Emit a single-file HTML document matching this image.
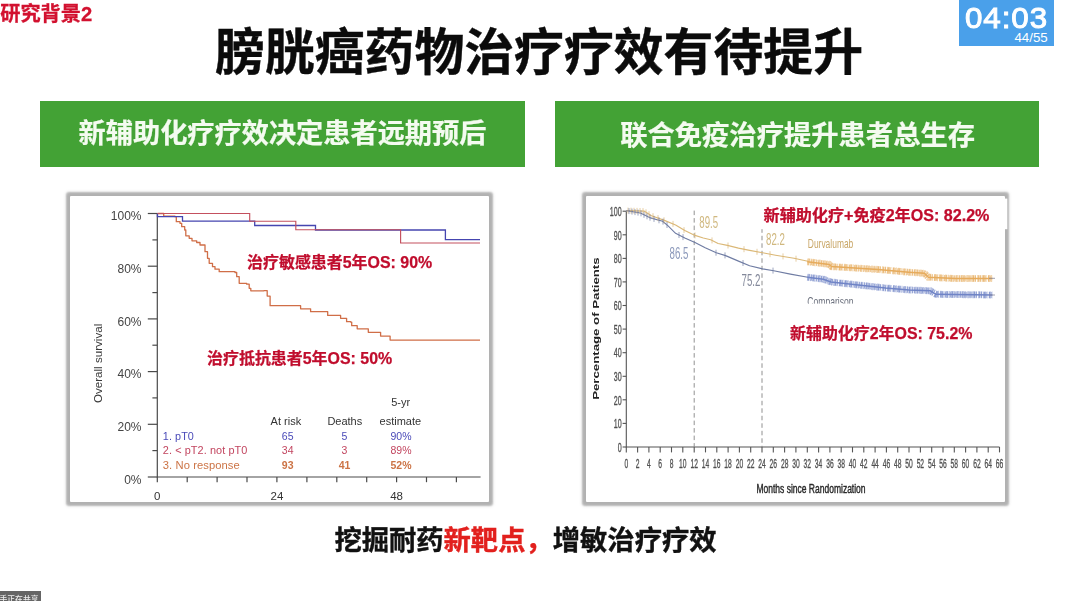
<!DOCTYPE html>
<html lang="zh"><head><meta charset="utf-8"><title>研究背景2</title>
<style>
html,body{margin:0;padding:0;background:#fff}
body{width:1080px;height:601px;position:relative;overflow:hidden;font-family:"Liberation Sans",sans-serif}
.lbl{position:absolute;margin:0;color:transparent;white-space:nowrap;font-weight:bold;overflow:hidden;pointer-events:none}
.lbl em{font-style:normal}
.banner{position:absolute;top:101px;height:65.5px;background:#43a235}
.box{position:absolute;top:195.7px;height:306.3px;background:#fff;border-radius:1px;box-shadow:0 0 2.2px 3.3px rgba(105,105,105,.52)}
.timer{position:absolute;left:959px;top:0;width:95px;height:45.5px;background:#4aa0ea;color:#fff}
.timer b{position:absolute;left:6.4px;top:2.6px;font-size:30px;line-height:30px;font-weight:normal;letter-spacing:0.9px;-webkit-text-stroke:1px #fff;transform:scaleX(1.044);transform-origin:0 0;white-space:nowrap}
.timer i{position:absolute;right:6.3px;top:30.7px;font-size:13.3px;line-height:13px;font-style:normal}
.tag{position:absolute;left:0;top:591px;width:40.5px;height:10px;background:#656565}
svg.main{position:absolute;left:0;top:0;filter:blur(0.4px)}
</style></head><body>

<div class="lbl" style="left:0;top:2px;font-size:20px;line-height:22px">研究背景2</div>
<h1 class="lbl" style="left:215px;top:24px;width:650px;font-size:50px;line-height:54px">膀胱癌药物治疗疗效有待提升</h1>
<div class="banner" style="left:40px;width:485px"><span class="lbl" style="left:38px;top:17px;font-size:27px;line-height:32px">新辅助化疗疗效决定患者远期预后</span></div>
<div class="banner" style="left:555px;width:484px"><span class="lbl" style="left:65px;top:18px;font-size:27px;line-height:32px">联合免疫治疗提升患者总生存</span></div>
<p class="lbl" style="left:334px;top:523px;font-size:27px;line-height:32px">挖掘耐药<em>新靶点，</em>增敏治疗疗效</p>
<div class="box" style="left:69.8px;width:419.5px"></div>
<div class="box" style="left:586.3px;width:419px"></div>
<div class="timer"><b>04:03</b><i>44/55</i></div>
<div class="tag"></div>
<svg class="main" width="1080" height="601" viewBox="0 0 1080 601">
<g stroke="#4a4a4a" stroke-width="1.2" fill="none">
<path d="M157.3 213.0 V477.0 H480.6"/>
<path d="M147.8 477.0 H157.3"/>
<path d="M152.4 450.6 H157.3"/>
<path d="M147.8 424.3 H157.3"/>
<path d="M152.4 397.9 H157.3"/>
<path d="M147.8 371.6 H157.3"/>
<path d="M152.4 345.2 H157.3"/>
<path d="M147.8 318.9 H157.3"/>
<path d="M152.4 292.6 H157.3"/>
<path d="M147.8 266.2 H157.3"/>
<path d="M152.4 239.9 H157.3"/>
<path d="M147.8 213.5 H157.3"/>
<path d="M157.3 477.0 v5.2"/>
<path d="M187.2 477.0 v5.2"/>
<path d="M217.1 477.0 v5.2"/>
<path d="M247.0 477.0 v5.2"/>
<path d="M276.9 477.0 v5.2"/>
<path d="M306.9 477.0 v5.2"/>
<path d="M336.8 477.0 v5.2"/>
<path d="M366.7 477.0 v5.2"/>
<path d="M396.6 477.0 v5.2"/>
<path d="M426.5 477.0 v5.2"/>
<path d="M456.4 477.0 v5.2"/>
</g>
<text transform="translate(141.50 483.60)" font-family="'Liberation Sans', sans-serif" font-size="12" font-weight="normal" fill="#444" text-anchor="end" >0%</text>
<text transform="translate(141.50 430.90)" font-family="'Liberation Sans', sans-serif" font-size="12" font-weight="normal" fill="#444" text-anchor="end" >20%</text>
<text transform="translate(141.50 378.20)" font-family="'Liberation Sans', sans-serif" font-size="12" font-weight="normal" fill="#444" text-anchor="end" >40%</text>
<text transform="translate(141.50 325.50)" font-family="'Liberation Sans', sans-serif" font-size="12" font-weight="normal" fill="#444" text-anchor="end" >60%</text>
<text transform="translate(141.50 272.80)" font-family="'Liberation Sans', sans-serif" font-size="12" font-weight="normal" fill="#444" text-anchor="end" >80%</text>
<text transform="translate(141.50 220.10)" font-family="'Liberation Sans', sans-serif" font-size="12" font-weight="normal" fill="#444" text-anchor="end" >100%</text>
<text transform="translate(157.30 500.00)" font-family="'Liberation Sans', sans-serif" font-size="11.5" font-weight="normal" fill="#333" text-anchor="middle" >0</text>
<text transform="translate(276.94 500.00)" font-family="'Liberation Sans', sans-serif" font-size="11.5" font-weight="normal" fill="#333" text-anchor="middle" >24</text>
<text transform="translate(396.58 500.00)" font-family="'Liberation Sans', sans-serif" font-size="11.5" font-weight="normal" fill="#333" text-anchor="middle" >48</text>
<text transform="translate(102.20 363.40) rotate(-90)" font-family="'Liberation Sans', sans-serif" font-size="11.6" font-weight="normal" fill="#3a3a3a" text-anchor="middle" >Overall survival</text>
<path d="M157.5 213.5 H163.7 V216.2 H175 V216.7 H176.3 V221.7 H180 V223.3 H181.7 V226.7 H184.7 V230 H185.8 V235.8 H189.2 V238.3 H192 V240.8 H196.7 V242.5 H200 V245 H203.3 V245 H205 V251.7 H207.5 V258.3 H209.2 V263.3 H212.5 V266.7 H215 V269.2 H219.2 V271.7 H235 V272.5 H236.7 V276.7 H239.2 V283.3 H246.7 V284.2 H249.2 V288.3 H250.8 V290.8 H263.9 V290.6 H267.2 V296.1 H270.1 V305.7 H299.4 V305.7 H300.6 V308.8 H309.4 V308.8 H310.6 V311.7 H326.6 V311.7 H327.7 V315.4 H339.4 V315.4 H340.6 V318.3 H345.7 V318.3 H346.6 V321.7 H350.6 V322.1 H351.7 V325.7 H356.1 V325.7 H357.2 V328.8 H367.2 V328.8 H368.3 V332.3 H379.4 V332.3 H380.6 V336.1 H389 V336.1 H390.1 V340.1 H480 V340.1" fill="none" stroke="#d06e47" stroke-width="1.3" stroke-linejoin="round"/>
<path d="M157.5 213.5 V216.7 H182.5 V221.2 H254.7 V225.5 H315.5 V230 H445.4 V239.6 H480" fill="none" stroke="#4545b0" stroke-width="1.3"/>
<path d="M157.5 213.5 H249.7 V221.2 H295.8 V229.7 H400.6 V243 H480" fill="none" stroke="#c4505e" stroke-width="1.15"/>
<text transform="translate(400.60 406.20)" font-family="'Liberation Sans', sans-serif" font-size="11" font-weight="normal" fill="#333" text-anchor="middle" >5-yr</text>
<text transform="translate(285.90 424.60)" font-family="'Liberation Sans', sans-serif" font-size="11" font-weight="normal" fill="#333" text-anchor="middle" >At risk</text>
<text transform="translate(344.80 425.00)" font-family="'Liberation Sans', sans-serif" font-size="11" font-weight="normal" fill="#333" text-anchor="middle" >Deaths</text>
<text transform="translate(400.30 424.60)" font-family="'Liberation Sans', sans-serif" font-size="11" font-weight="normal" fill="#333" text-anchor="middle" >estimate</text>
<text transform="translate(162.80 439.50)" font-family="'Liberation Sans', sans-serif" font-size="10.8" font-weight="normal" fill="#4a4ab8" text-anchor="start" letter-spacing="0.08">1. pT0</text>
<text transform="translate(287.70 439.50)" font-family="'Liberation Sans', sans-serif" font-size="10.5" font-weight="normal" fill="#4a4ab8" text-anchor="middle" >65</text>
<text transform="translate(344.50 439.50)" font-family="'Liberation Sans', sans-serif" font-size="10.5" font-weight="normal" fill="#4a4ab8" text-anchor="middle" >5</text>
<text transform="translate(401.00 439.50)" font-family="'Liberation Sans', sans-serif" font-size="10.5" font-weight="normal" fill="#4a4ab8" text-anchor="middle" >90%</text>
<text transform="translate(162.80 454.00)" font-family="'Liberation Sans', sans-serif" font-size="10.9" font-weight="normal" fill="#c2455f" text-anchor="start" letter-spacing="0.08">2. &lt; pT2. not pT0</text>
<text transform="translate(287.70 454.00)" font-family="'Liberation Sans', sans-serif" font-size="10.5" font-weight="normal" fill="#c2455f" text-anchor="middle" >34</text>
<text transform="translate(344.50 454.00)" font-family="'Liberation Sans', sans-serif" font-size="10.5" font-weight="normal" fill="#c2455f" text-anchor="middle" >3</text>
<text transform="translate(401.00 454.00)" font-family="'Liberation Sans', sans-serif" font-size="10.5" font-weight="normal" fill="#c2455f" text-anchor="middle" >89%</text>
<text transform="translate(162.80 468.80)" font-family="'Liberation Sans', sans-serif" font-size="11.2" font-weight="normal" fill="#cc7446" text-anchor="start" letter-spacing="0.08">3. No response</text>
<text transform="translate(287.70 468.80)" font-family="'Liberation Sans', sans-serif" font-size="10.5" font-weight="bold" fill="#cc7446" text-anchor="middle" >93</text>
<text transform="translate(344.50 468.80)" font-family="'Liberation Sans', sans-serif" font-size="10.5" font-weight="bold" fill="#cc7446" text-anchor="middle" >41</text>
<text transform="translate(401.00 468.80)" font-family="'Liberation Sans', sans-serif" font-size="10.5" font-weight="bold" fill="#cc7446" text-anchor="middle" >52%</text>
<g stroke="#555" stroke-width="1.1" fill="none">
<path d="M626.3 211.2 V447.0 H999.5"/>
<path d="M622.6 447.0 H626.3"/>
<path d="M622.6 423.4 H626.3"/>
<path d="M622.6 399.8 H626.3"/>
<path d="M622.6 376.3 H626.3"/>
<path d="M622.6 352.7 H626.3"/>
<path d="M622.6 329.1 H626.3"/>
<path d="M622.6 305.5 H626.3"/>
<path d="M622.6 281.9 H626.3"/>
<path d="M622.6 258.4 H626.3"/>
<path d="M622.6 234.8 H626.3"/>
<path d="M622.6 211.2 H626.3"/>
<path d="M626.3 447.0 v5.4"/>
<path d="M637.6 447.0 v5.4"/>
<path d="M648.9 447.0 v5.4"/>
<path d="M660.2 447.0 v5.4"/>
<path d="M671.5 447.0 v5.4"/>
<path d="M682.8 447.0 v5.4"/>
<path d="M694.2 447.0 v5.4"/>
<path d="M705.5 447.0 v5.4"/>
<path d="M716.8 447.0 v5.4"/>
<path d="M728.1 447.0 v5.4"/>
<path d="M739.4 447.0 v5.4"/>
<path d="M750.7 447.0 v5.4"/>
<path d="M762.0 447.0 v5.4"/>
<path d="M773.3 447.0 v5.4"/>
<path d="M784.6 447.0 v5.4"/>
<path d="M795.9 447.0 v5.4"/>
<path d="M807.3 447.0 v5.4"/>
<path d="M818.6 447.0 v5.4"/>
<path d="M829.9 447.0 v5.4"/>
<path d="M841.2 447.0 v5.4"/>
<path d="M852.5 447.0 v5.4"/>
<path d="M863.8 447.0 v5.4"/>
<path d="M875.1 447.0 v5.4"/>
<path d="M886.4 447.0 v5.4"/>
<path d="M897.7 447.0 v5.4"/>
<path d="M909.0 447.0 v5.4"/>
<path d="M920.4 447.0 v5.4"/>
<path d="M931.7 447.0 v5.4"/>
<path d="M943.0 447.0 v5.4"/>
<path d="M954.3 447.0 v5.4"/>
<path d="M965.6 447.0 v5.4"/>
<path d="M976.9 447.0 v5.4"/>
<path d="M988.2 447.0 v5.4"/>
<path d="M999.5 447.0 v5.4"/>
</g>
<text transform="translate(621.60 451.80) scale(0.53 1)" font-family="'Liberation Sans', sans-serif" font-size="13.4" font-weight="normal" fill="#505050" text-anchor="end" stroke="#505050" stroke-width="0.35">0</text>
<text transform="translate(621.60 428.22) scale(0.53 1)" font-family="'Liberation Sans', sans-serif" font-size="13.4" font-weight="normal" fill="#505050" text-anchor="end" stroke="#505050" stroke-width="0.35">10</text>
<text transform="translate(621.60 404.64) scale(0.53 1)" font-family="'Liberation Sans', sans-serif" font-size="13.4" font-weight="normal" fill="#505050" text-anchor="end" stroke="#505050" stroke-width="0.35">20</text>
<text transform="translate(621.60 381.06) scale(0.53 1)" font-family="'Liberation Sans', sans-serif" font-size="13.4" font-weight="normal" fill="#505050" text-anchor="end" stroke="#505050" stroke-width="0.35">30</text>
<text transform="translate(621.60 357.48) scale(0.53 1)" font-family="'Liberation Sans', sans-serif" font-size="13.4" font-weight="normal" fill="#505050" text-anchor="end" stroke="#505050" stroke-width="0.35">40</text>
<text transform="translate(621.60 333.90) scale(0.53 1)" font-family="'Liberation Sans', sans-serif" font-size="13.4" font-weight="normal" fill="#505050" text-anchor="end" stroke="#505050" stroke-width="0.35">50</text>
<text transform="translate(621.60 310.32) scale(0.53 1)" font-family="'Liberation Sans', sans-serif" font-size="13.4" font-weight="normal" fill="#505050" text-anchor="end" stroke="#505050" stroke-width="0.35">60</text>
<text transform="translate(621.60 286.74) scale(0.53 1)" font-family="'Liberation Sans', sans-serif" font-size="13.4" font-weight="normal" fill="#505050" text-anchor="end" stroke="#505050" stroke-width="0.35">70</text>
<text transform="translate(621.60 263.16) scale(0.53 1)" font-family="'Liberation Sans', sans-serif" font-size="13.4" font-weight="normal" fill="#505050" text-anchor="end" stroke="#505050" stroke-width="0.35">80</text>
<text transform="translate(621.60 239.58) scale(0.53 1)" font-family="'Liberation Sans', sans-serif" font-size="13.4" font-weight="normal" fill="#505050" text-anchor="end" stroke="#505050" stroke-width="0.35">90</text>
<text transform="translate(621.60 216.00) scale(0.53 1)" font-family="'Liberation Sans', sans-serif" font-size="13.4" font-weight="normal" fill="#505050" text-anchor="end" stroke="#505050" stroke-width="0.35">100</text>
<text transform="translate(626.30 467.80) scale(0.5 1)" font-family="'Liberation Sans', sans-serif" font-size="13.4" font-weight="normal" fill="#505050" text-anchor="middle" stroke="#505050" stroke-width="0.35">0</text>
<text transform="translate(637.61 467.80) scale(0.5 1)" font-family="'Liberation Sans', sans-serif" font-size="13.4" font-weight="normal" fill="#505050" text-anchor="middle" stroke="#505050" stroke-width="0.35">2</text>
<text transform="translate(648.92 467.80) scale(0.5 1)" font-family="'Liberation Sans', sans-serif" font-size="13.4" font-weight="normal" fill="#505050" text-anchor="middle" stroke="#505050" stroke-width="0.35">4</text>
<text transform="translate(660.23 467.80) scale(0.5 1)" font-family="'Liberation Sans', sans-serif" font-size="13.4" font-weight="normal" fill="#505050" text-anchor="middle" stroke="#505050" stroke-width="0.35">6</text>
<text transform="translate(671.54 467.80) scale(0.5 1)" font-family="'Liberation Sans', sans-serif" font-size="13.4" font-weight="normal" fill="#505050" text-anchor="middle" stroke="#505050" stroke-width="0.35">8</text>
<text transform="translate(682.85 467.80) scale(0.5 1)" font-family="'Liberation Sans', sans-serif" font-size="13.4" font-weight="normal" fill="#505050" text-anchor="middle" stroke="#505050" stroke-width="0.35">10</text>
<text transform="translate(694.16 467.80) scale(0.5 1)" font-family="'Liberation Sans', sans-serif" font-size="13.4" font-weight="normal" fill="#505050" text-anchor="middle" stroke="#505050" stroke-width="0.35">12</text>
<text transform="translate(705.47 467.80) scale(0.5 1)" font-family="'Liberation Sans', sans-serif" font-size="13.4" font-weight="normal" fill="#505050" text-anchor="middle" stroke="#505050" stroke-width="0.35">14</text>
<text transform="translate(716.78 467.80) scale(0.5 1)" font-family="'Liberation Sans', sans-serif" font-size="13.4" font-weight="normal" fill="#505050" text-anchor="middle" stroke="#505050" stroke-width="0.35">16</text>
<text transform="translate(728.09 467.80) scale(0.5 1)" font-family="'Liberation Sans', sans-serif" font-size="13.4" font-weight="normal" fill="#505050" text-anchor="middle" stroke="#505050" stroke-width="0.35">18</text>
<text transform="translate(739.40 467.80) scale(0.5 1)" font-family="'Liberation Sans', sans-serif" font-size="13.4" font-weight="normal" fill="#505050" text-anchor="middle" stroke="#505050" stroke-width="0.35">20</text>
<text transform="translate(750.71 467.80) scale(0.5 1)" font-family="'Liberation Sans', sans-serif" font-size="13.4" font-weight="normal" fill="#505050" text-anchor="middle" stroke="#505050" stroke-width="0.35">22</text>
<text transform="translate(762.02 467.80) scale(0.5 1)" font-family="'Liberation Sans', sans-serif" font-size="13.4" font-weight="normal" fill="#505050" text-anchor="middle" stroke="#505050" stroke-width="0.35">24</text>
<text transform="translate(773.33 467.80) scale(0.5 1)" font-family="'Liberation Sans', sans-serif" font-size="13.4" font-weight="normal" fill="#505050" text-anchor="middle" stroke="#505050" stroke-width="0.35">26</text>
<text transform="translate(784.64 467.80) scale(0.5 1)" font-family="'Liberation Sans', sans-serif" font-size="13.4" font-weight="normal" fill="#505050" text-anchor="middle" stroke="#505050" stroke-width="0.35">28</text>
<text transform="translate(795.95 467.80) scale(0.5 1)" font-family="'Liberation Sans', sans-serif" font-size="13.4" font-weight="normal" fill="#505050" text-anchor="middle" stroke="#505050" stroke-width="0.35">30</text>
<text transform="translate(807.26 467.80) scale(0.5 1)" font-family="'Liberation Sans', sans-serif" font-size="13.4" font-weight="normal" fill="#505050" text-anchor="middle" stroke="#505050" stroke-width="0.35">32</text>
<text transform="translate(818.57 467.80) scale(0.5 1)" font-family="'Liberation Sans', sans-serif" font-size="13.4" font-weight="normal" fill="#505050" text-anchor="middle" stroke="#505050" stroke-width="0.35">34</text>
<text transform="translate(829.88 467.80) scale(0.5 1)" font-family="'Liberation Sans', sans-serif" font-size="13.4" font-weight="normal" fill="#505050" text-anchor="middle" stroke="#505050" stroke-width="0.35">36</text>
<text transform="translate(841.19 467.80) scale(0.5 1)" font-family="'Liberation Sans', sans-serif" font-size="13.4" font-weight="normal" fill="#505050" text-anchor="middle" stroke="#505050" stroke-width="0.35">38</text>
<text transform="translate(852.50 467.80) scale(0.5 1)" font-family="'Liberation Sans', sans-serif" font-size="13.4" font-weight="normal" fill="#505050" text-anchor="middle" stroke="#505050" stroke-width="0.35">40</text>
<text transform="translate(863.81 467.80) scale(0.5 1)" font-family="'Liberation Sans', sans-serif" font-size="13.4" font-weight="normal" fill="#505050" text-anchor="middle" stroke="#505050" stroke-width="0.35">42</text>
<text transform="translate(875.12 467.80) scale(0.5 1)" font-family="'Liberation Sans', sans-serif" font-size="13.4" font-weight="normal" fill="#505050" text-anchor="middle" stroke="#505050" stroke-width="0.35">44</text>
<text transform="translate(886.43 467.80) scale(0.5 1)" font-family="'Liberation Sans', sans-serif" font-size="13.4" font-weight="normal" fill="#505050" text-anchor="middle" stroke="#505050" stroke-width="0.35">46</text>
<text transform="translate(897.74 467.80) scale(0.5 1)" font-family="'Liberation Sans', sans-serif" font-size="13.4" font-weight="normal" fill="#505050" text-anchor="middle" stroke="#505050" stroke-width="0.35">48</text>
<text transform="translate(909.05 467.80) scale(0.5 1)" font-family="'Liberation Sans', sans-serif" font-size="13.4" font-weight="normal" fill="#505050" text-anchor="middle" stroke="#505050" stroke-width="0.35">50</text>
<text transform="translate(920.36 467.80) scale(0.5 1)" font-family="'Liberation Sans', sans-serif" font-size="13.4" font-weight="normal" fill="#505050" text-anchor="middle" stroke="#505050" stroke-width="0.35">52</text>
<text transform="translate(931.67 467.80) scale(0.5 1)" font-family="'Liberation Sans', sans-serif" font-size="13.4" font-weight="normal" fill="#505050" text-anchor="middle" stroke="#505050" stroke-width="0.35">54</text>
<text transform="translate(942.98 467.80) scale(0.5 1)" font-family="'Liberation Sans', sans-serif" font-size="13.4" font-weight="normal" fill="#505050" text-anchor="middle" stroke="#505050" stroke-width="0.35">56</text>
<text transform="translate(954.29 467.80) scale(0.5 1)" font-family="'Liberation Sans', sans-serif" font-size="13.4" font-weight="normal" fill="#505050" text-anchor="middle" stroke="#505050" stroke-width="0.35">58</text>
<text transform="translate(965.60 467.80) scale(0.5 1)" font-family="'Liberation Sans', sans-serif" font-size="13.4" font-weight="normal" fill="#505050" text-anchor="middle" stroke="#505050" stroke-width="0.35">60</text>
<text transform="translate(976.91 467.80) scale(0.5 1)" font-family="'Liberation Sans', sans-serif" font-size="13.4" font-weight="normal" fill="#505050" text-anchor="middle" stroke="#505050" stroke-width="0.35">62</text>
<text transform="translate(988.22 467.80) scale(0.5 1)" font-family="'Liberation Sans', sans-serif" font-size="13.4" font-weight="normal" fill="#505050" text-anchor="middle" stroke="#505050" stroke-width="0.35">64</text>
<text transform="translate(999.53 467.80) scale(0.5 1)" font-family="'Liberation Sans', sans-serif" font-size="13.4" font-weight="normal" fill="#505050" text-anchor="middle" stroke="#505050" stroke-width="0.35">66</text>
<text transform="translate(811.00 492.80) scale(0.655 1)" font-family="'Liberation Sans', sans-serif" font-size="13" font-weight="normal" fill="#2a2a2a" text-anchor="middle" stroke="#2a2a2a" stroke-width="0.45">Months since Randomization</text>
<text transform="translate(599.20 328.60) rotate(-90) scale(1.47 1)" font-family="'Liberation Sans', sans-serif" font-size="9" font-weight="bold" fill="#222" text-anchor="middle" >Percentage of Patients</text>
<path d="M694.2 210.6 V447.0" stroke="#858585" stroke-width="0.9" stroke-dasharray="4.5 3" fill="none"/>
<path d="M762.0 228.3 V447.0" stroke="#858585" stroke-width="0.9" stroke-dasharray="4.5 3" fill="none"/>
<path d="M626.3 210.6 L644.0 211.1 L651.5 215.7 L664.4 220.4 L675.6 225.0 L684.8 230.6 L695.0 235.4 L703.3 238.0 L710.7 239.8 L718.1 243.5 L727.4 245.4 L738.5 248.1 L749.6 250.4 L762.6 252.8 L775.6 255.2 L794.0 258.3 L807.8 261.3" fill="none" stroke="#dbb877" stroke-width="1.15" stroke-linejoin="round"/>
<path d="M626.3 210.6 L640.4 213.0 L649.6 217.6 L662.6 221.3 L668.1 225.9 L675.6 233.3 L684.8 238.0 L695.0 242.6 L705.2 247.8 L716.3 252.8 L725.6 255.6 L738.5 261.1 L749.6 265.7 L762.6 268.9 L773.7 270.7 L790.4 274.1 L807.8 277.3" fill="none" stroke="#6f7ca3" stroke-width="1.15" stroke-linejoin="round"/>
<path d="M807.3 261.7 L829.2 264.4 L831.5 266.6 L877.8 269.4 L908.9 272.2 L924.4 273.3 L928.3 277.2 L955.6 278.6 L992.4 278.6" fill="none" stroke="#e6ab5c" stroke-width="7" stroke-dasharray="2.4 0.6 1.2 0.9 3 0.5 0.9 1.3" opacity="0.5"/>
<path d="M807.3 261.7 L829.2 264.4 L831.5 266.6 L877.8 269.4 L908.9 272.2 L924.4 273.3 L928.3 277.2 L955.6 278.6 L992.4 278.6" fill="none" stroke="#e6ab5c" stroke-width="6" stroke-dasharray="1.1 0.8 0.9 1.6 1.3 0.7 1 2.3" stroke-dashoffset="0.7" opacity="0.62"/>
<path d="M807.3 261.7 L829.2 264.4 L831.5 266.6 L877.8 269.4 L908.9 272.2 L924.4 273.3 L928.3 277.2 L955.6 278.6 L992.4 278.6" fill="none" stroke="#e6ab5c" stroke-width="1.5"/>
<path d="M807.3 277.2 L823.3 279.2 L831.0 282.0 L858.3 285.0 L885.6 288.0 L908.9 289.9 L930.3 290.8 L936.0 294.3 L992.4 295.0" fill="none" stroke="#7084c6" stroke-width="7" stroke-dasharray="2.4 0.6 1.2 0.9 3 0.5 0.9 1.3" opacity="0.5"/>
<path d="M807.3 277.2 L823.3 279.2 L831.0 282.0 L858.3 285.0 L885.6 288.0 L908.9 289.9 L930.3 290.8 L936.0 294.3 L992.4 295.0" fill="none" stroke="#7084c6" stroke-width="6" stroke-dasharray="1.1 0.8 0.9 1.6 1.3 0.7 1 2.3" stroke-dashoffset="0.7" opacity="0.62"/>
<path d="M807.3 277.2 L823.3 279.2 L831.0 282.0 L858.3 285.0 L885.6 288.0 L908.9 289.9 L930.3 290.8 L936.0 294.3 L992.4 295.0" fill="none" stroke="#7084c6" stroke-width="1.5"/>
<path d="M628 207.6 v6 M631 207.7 v6 M634 207.8 v6 M637 207.9 v6 M640 208.0 v6 M643 208.1 v6 M646 209.3 v6 M649 211.2 v6 M653 213.2 v6 M658 215.1 v6 M664 217.3 v6 M673 220.9 v6 M684 227.1 v6 M695 232.4 v6 M712 237.4 v6 M728 242.5 v6 M744 246.2 v6 M757 248.8 v6 M770 251.2 v6 M783 253.4 v6 M796 255.7 v6" stroke="#dbb877" stroke-width="0.9" opacity="0.75" fill="none"/>
<path d="M629 208.1 v6 M632 208.6 v6 M635 209.1 v6 M638 209.6 v6 M641 210.3 v6 M644 211.8 v6 M647 213.3 v6 M650 214.7 v6 M654 215.9 v6 M659 217.3 v6 M663 218.6 v6 M667 222.0 v6 M679 232.0 v6 M683 234.1 v6 M716 249.7 v6 M725 252.4 v6 M743 260.0 v6 M773 267.6 v6" stroke="#6f7ca3" stroke-width="0.9" opacity="0.75" fill="none"/>
<path d="M989 278.3 h6 M989 295 h6" stroke="#889" stroke-width="0.8"/>
<text transform="translate(699.30 228.30) scale(0.57 1)" font-family="'Liberation Sans', sans-serif" font-size="17" font-weight="normal" fill="#d0b87f" text-anchor="start" >89.5</text>
<text transform="translate(766.00 245.40) scale(0.57 1)" font-family="'Liberation Sans', sans-serif" font-size="17" font-weight="normal" fill="#d0b87f" text-anchor="start" >82.2</text>
<text transform="translate(669.60 258.80) scale(0.57 1)" font-family="'Liberation Sans', sans-serif" font-size="17" font-weight="normal" fill="#8b98ba" text-anchor="start" >86.5</text>
<text transform="translate(741.60 286.10) scale(0.57 1)" font-family="'Liberation Sans', sans-serif" font-size="17" font-weight="normal" fill="#83889a" text-anchor="start" >75.2</text>
<text transform="translate(807.80 247.60) scale(0.65 1)" font-family="'Liberation Sans', sans-serif" font-size="13" font-weight="normal" fill="#c9a768" text-anchor="start" >Durvalumab</text>
<text transform="translate(807.30 305.50) scale(0.64 1)" font-family="'Liberation Sans', sans-serif" font-size="13.4" font-weight="normal" fill="#6a6f7c" text-anchor="start" >Comparison</text>
<rect x="756" y="198.6" width="251.3" height="30.6" fill="#fff"/>
<rect x="780" y="303.6" width="225" height="43" fill="#fff"/>
<text x="0.2" y="20.9" font-family="'Liberation Sans', 'Noto Sans CJK SC', sans-serif" font-size="20.2" font-weight="bold" fill="#d2112f" stroke="#d2112f" stroke-width="0.28">研究背景2</text>
<text x="215.0" y="70.0" font-family="'Liberation Sans', 'Noto Sans CJK SC', sans-serif" font-size="49.85" font-weight="bold" fill="#0b0b0b" stroke="#0b0b0b" stroke-width="0.4">膀胱癌药物治疗疗效有待提升</text>
<text x="78.6" y="143.2" font-family="'Liberation Sans', 'Noto Sans CJK SC', sans-serif" font-size="27.2" font-weight="bold" fill="#f4fbf0" stroke="#f4fbf0" stroke-width="0.24">新辅助化疗疗效决定患者远期预后</text>
<text x="620.2" y="144.8" font-family="'Liberation Sans', 'Noto Sans CJK SC', sans-serif" font-size="27.3" font-weight="bold" fill="#f4fbf0" stroke="#f4fbf0" stroke-width="0.24">联合免疫治疗提升患者总生存</text>
<text x="247.1" y="267.7" font-family="'Liberation Sans', 'Noto Sans CJK SC', sans-serif" font-size="15.95" font-weight="bold" fill="#c00d2d" stroke="#c00d2d" stroke-width="0.25">治疗敏感患者5年OS: 90%</text>
<text x="207.1" y="363.6" font-family="'Liberation Sans', 'Noto Sans CJK SC', sans-serif" font-size="15.95" font-weight="bold" fill="#c00d2d" stroke="#c00d2d" stroke-width="0.25">治疗抵抗患者5年OS: 50%</text>
<text x="763.6" y="220.7" font-family="'Liberation Sans', 'Noto Sans CJK SC', sans-serif" font-size="16.1" font-weight="bold" fill="#c00d2d" stroke="#c00d2d" stroke-width="0.25">新辅助化疗+免疫2年OS: 82.2%</text>
<text x="790.0" y="338.5" font-family="'Liberation Sans', 'Noto Sans CJK SC', sans-serif" font-size="15.95" font-weight="bold" fill="#c00d2d" stroke="#c00d2d" stroke-width="0.25">新辅助化疗2年OS: 75.2%</text>
<text x="334.4" y="550.4" font-family="'Liberation Sans', 'Noto Sans CJK SC', sans-serif" font-size="27.3" font-weight="bold" fill="#111" stroke="#111" stroke-width="0.4">挖掘耐药<tspan fill="#e2201d" stroke="#e2201d">新靶点，</tspan>增敏治疗疗效</text>
<text x="-0.5" y="601.6" font-family="'Liberation Sans', 'Noto Sans CJK SC', sans-serif" font-size="7.8" font-weight="500" fill="#eee">手正在共享</text>
</svg>
</body></html>
